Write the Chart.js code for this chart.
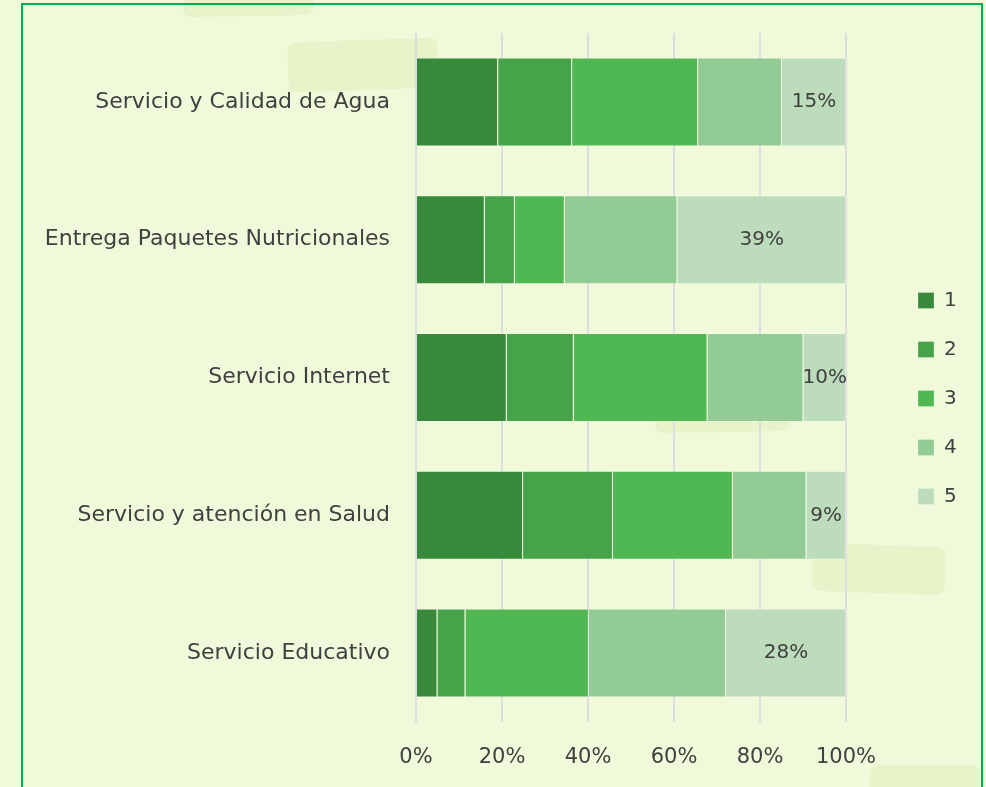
<!DOCTYPE html>
<html>
<head>
<meta charset="utf-8">
<script src="https://cdn.jsdelivr.net/npm/chart.js@4/dist/chart.umd.min.js"></script>
<style>
  html, body { margin: 0; padding: 0; background: #f0fada; overflow: hidden; }
  #wrap { position: relative; width: 986px; height: 787px; }
  .marco { position: absolute; left: 21px; top: 3px; width: 958px; height: 820px; border: 2px solid #00b050; }
  .mancha { position: absolute; background: #e5f3c6; border-radius: 8px; opacity: 0.8; }
  canvas { position: absolute; left: 0; top: 0; }
</style>
</head>
<body>
<div id="wrap">
  <div class="mancha" style="left:183px;top:-4px;width:130px;height:20px;transform:rotate(-1deg)"></div>
  <div class="mancha" style="left:288px;top:40px;width:150px;height:50px;transform:rotate(-2deg)"></div>
  <div class="mancha" style="left:655px;top:410px;width:135px;height:22px;transform:rotate(-1deg)"></div>
  <div class="mancha" style="left:812px;top:545px;width:133px;height:48px;transform:rotate(2deg)"></div>
  <div class="mancha" style="left:870px;top:765px;width:110px;height:30px"></div>
  <div class="marco"></div>
  <canvas id="canvas" width="986" height="787"></canvas>
</div>
<script>
// categorias y series (porcentaje por calificacion 1..5)
var categorias = [
  "Servicio y Calidad de Agua",
  "Entrega Paquetes Nutricionales",
  "Servicio Internet",
  "Servicio y atención en Salud",
  "Servicio Educativo"
];
var serie1 = [19.1, 16.0, 21.1, 24.9, 5.0];
var serie2 = [17.2, 7.0, 15.6, 20.9, 6.5];
var serie3 = [29.3, 11.6, 31.1, 27.9, 28.7];
var serie4 = [19.5, 26.2, 22.3, 17.1, 31.9];
var serie5 = [14.9, 39.2, 9.9, 9.2, 27.9];
var nombres = ["1", "2", "3", "4", "5"];
var colores = ["#38893a", "#47a34a", "#50b853", "#93cb94", "#bcdcbb"];
var ticksX = [0, 20, 40, 60, 80, 100];

var fuente = "'Comic Sans MS', 'DejaVu Sans', sans-serif";
var gris = "#404040";

// etiquetas solo para la ultima serie
var etiquetas5 = {
  id: "etiquetas5",
  afterDatasetsDraw: function (chart) {
    var meta = chart.getDatasetMeta(4);
    var ctx = chart.ctx;
    ctx.save();
    ctx.font = "20px " + fuente;
    ctx.fillStyle = gris;
    ctx.textAlign = "center";
    ctx.textBaseline = "middle";
    meta.data.forEach(function (bar, i) {
      var p = bar.getProps(["x", "base", "y"], true);
      ctx.fillText(Math.round(serie5[i]) + "%", (p.x + p.base) / 2, p.y);
    });
    ctx.restore();
  }
};

// leyenda a la derecha, separada del area del grafico
var leyenda = {
  id: "leyenda",
  beforeLayout: function (chart) {
    var lg = chart.legend;
    if (lg && !lg._ajustada) {
      var fit = lg.fit;
      lg.fit = function () {
        fit.call(this);
        this.width = 140;
      };
      lg._ajustada = true;
    }
  },
  afterLayout: function (chart) {
    var lg = chart.legend;
    var w = lg.right - lg.left;
    lg.left = chart.chartArea.right + 43;
    lg.right = lg.left + w;
    lg.top -= 4;
    lg.bottom -= 4;
  }
};

var datasets = [serie1, serie2, serie3, serie4, serie5].map(function (d, i) {
  return {
    label: nombres[i],
    data: d,
    backgroundColor: colores[i],
    borderColor: "rgba(255,255,255,0.25)",
    borderWidth: 1,
    barPercentage: 0.646,
    categoryPercentage: 1
  };
});

var ctx = document.getElementById("canvas").getContext("2d");
window.myBar = new Chart(ctx, {
  type: "bar",
  data: { labels: categorias, datasets: datasets },
  plugins: [etiquetas5, leyenda],
  options: {
    indexAxis: "y",
    responsive: false,
    animation: false,
    layout: { padding: { top: 33, bottom: 15, left: 0, right: 0 } },
    plugins: {
      legend: {
        position: "right",
        labels: {
          boxWidth: 16,
          boxHeight: 16,
          padding: 29,
          color: gris,
          font: { family: fuente, size: 20 }
        }
      },
      tooltip: { enabled: false }
    },
    scales: {
      x: {
        stacked: true,
        min: 0,
        max: 100,
        afterBuildTicks: function (scale) {
          scale.ticks = ticksX.map(function (v) { return { value: v }; });
        },
        afterFit: function (scale) { scale.height = 50; },
        grid: { color: "#dcdde1", lineWidth: 2, drawTicks: false },
        border: { display: false },
        ticks: {
          padding: 23,
          color: gris,
          font: { family: fuente, size: 21 },
          callback: function (v) { return v + "%"; }
        }
      },
      y: {
        stacked: true,
        afterFit: function (scale) {
          scale.width = 416;
          scale.paddingTop = 0;
          scale.paddingBottom = 0;
        },
        grid: { display: false, drawTicks: false },
        border: { display: false },
        ticks: {
          padding: 26,
          color: gris,
          font: { family: fuente, size: 22 }
        }
      }
    }
  }
});
</script>
</body>
</html>
